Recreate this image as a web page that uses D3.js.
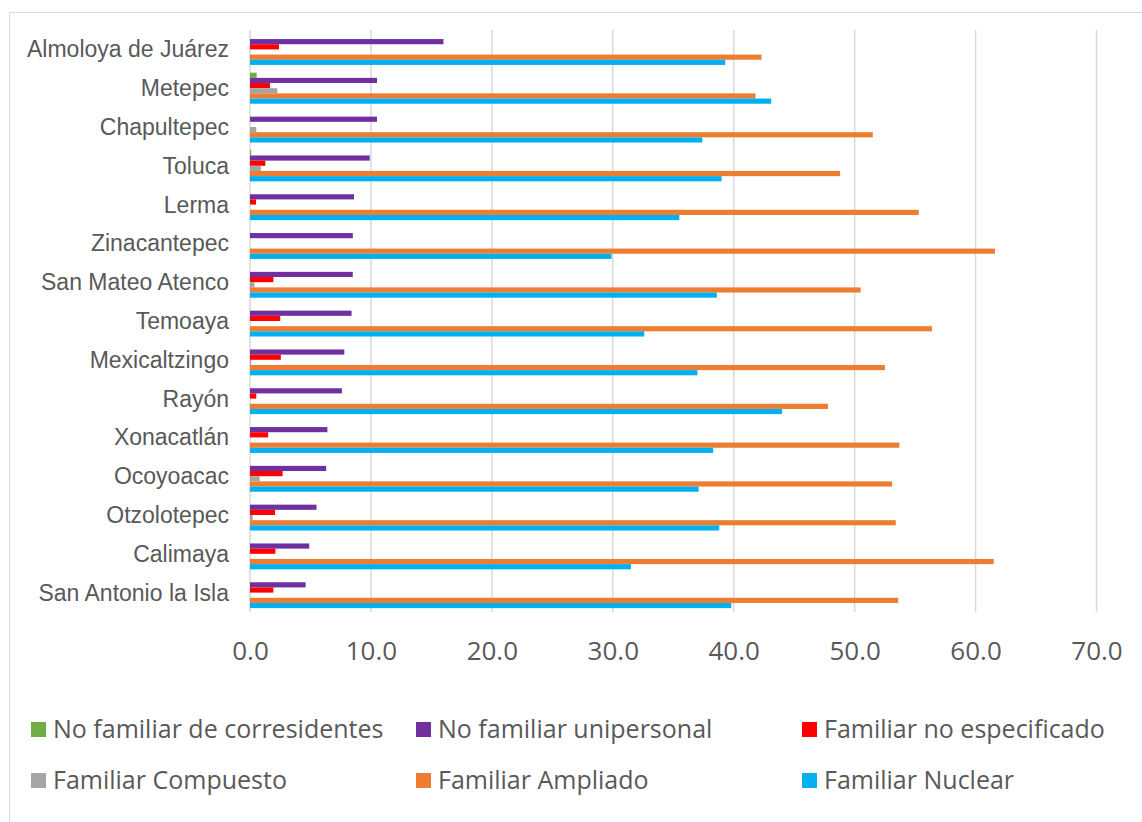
<!DOCTYPE html>
<html>
<head>
<meta charset="utf-8">
<script src="https://cdn.jsdelivr.net/npm/d3@7"></script>
<style>
  body { margin: 0; background: #fff; }
  svg { display: block; }
</style>
</head>
<body>
<script>
// categorias (de arriba hacia abajo)
var categories = ['Almoloya de Juárez', 'Metepec', 'Chapultepec', 'Toluca', 'Lerma',
  'Zinacantepec', 'San Mateo Atenco', 'Temoaya', 'Mexicaltzingo', 'Rayón',
  'Xonacatlán', 'Ocoyoacac', 'Otzolotepec', 'Calimaya', 'San Antonio la Isla'];

var noFamiliarCorresidentes = [0, 0.55, 0, 0.1, 0, 0, 0, 0, 0, 0, 0, 0, 0, 0, 0];
var noFamiliarUnipersonal = [16.0, 10.5, 10.5, 9.9, 8.6, 8.5, 8.5, 8.4, 7.8, 7.6, 6.4, 6.3, 5.5, 4.9, 4.6];
var familiarNoEspecificado = [2.4, 1.65, 0, 1.27, 0.5, 0, 1.93, 2.5, 2.55, 0.52, 1.5, 2.7, 2.07, 2.1, 1.93];
var familiarCompuesto = [0, 2.26, 0.52, 0.9, 0, 0, 0.36, 0, 0.1, 0, 0, 0.8, 0.22, 0, 0];
var familiarAmpliado = [42.3, 41.8, 51.5, 48.8, 55.3, 61.6, 50.5, 56.4, 52.5, 47.8, 53.7, 53.1, 53.4, 61.5, 53.6];
var familiarNuclear = [39.3, 43.1, 37.4, 39.0, 35.5, 29.9, 38.6, 32.6, 37.0, 44.0, 38.3, 37.1, 38.8, 31.5, 39.8];

var seriesNames = ['No familiar de corresidentes', 'No familiar unipersonal', 'Familiar no especificado',
  'Familiar Compuesto', 'Familiar Ampliado', 'Familiar Nuclear'];
var seriesValues = [noFamiliarCorresidentes, noFamiliarUnipersonal, familiarNoEspecificado,
  familiarCompuesto, familiarAmpliado, familiarNuclear];
var colors = ['#70AD47', '#7030A0', '#FF0000', '#A5A5A5', '#ED7D31', '#00B0F0'];
var xTicks = [0, 10, 20, 30, 40, 50, 60, 70];

var width = 1142, height = 822;
var svg = d3.select('body').append('svg').attr('width', width).attr('height', height);

// marco del grafico
svg.append('rect')
  .attr('x', 9.5).attr('y', 12.5)
  .attr('width', 1140).attr('height', 820)
  .attr('fill', 'none').attr('stroke', '#d9d9d9').attr('stroke-width', 1);

var x = d3.scaleLinear().domain([0, 70]).range([250, 1096.5]);
var y = d3.scaleBand().domain(categories).range([30, 612]).paddingInner(0).paddingOuter(0);
var bandGap = y.bandwidth() * 1.5 / 7.5 / 2;
var ySub = d3.scaleBand().domain(d3.range(seriesNames.length))
  .range([bandGap, y.bandwidth() - bandGap]).padding(0);

// lineas de cuadricula
svg.append('g').selectAll('line')
  .data(xTicks)
  .enter()
  .append('line')
  .attr('x1', function (d) { return x(d); })
  .attr('x2', function (d) { return x(d); })
  .attr('y1', 30).attr('y2', 612)
  .attr('stroke', '#d9d9d9').attr('stroke-width', 1.5);

// barras
var groups = svg.append('g').selectAll('g')
  .data(categories)
  .enter()
  .append('g')
  .attr('transform', function (d) { return 'translate(0,' + y(d) + ')'; });

groups.selectAll('rect')
  .data(function (d, i) {
    return seriesValues.map(function (s, k) { return { k: k, v: s[i] }; });
  })
  .enter()
  .append('rect')
  .attr('x', x(0))
  .attr('y', function (d) { return ySub(d.k); })
  .attr('height', ySub.bandwidth())
  .attr('width', function (d) { return x(d.v) - x(0); })
  .attr('fill', function (d) { return colors[d.k]; });

// etiquetas de categorias
svg.append('g').selectAll('text')
  .data(categories)
  .enter()
  .append('text')
  .attr('x', 229)
  .attr('y', function (d) { return y(d) + y.bandwidth() / 2; })
  .attr('dy', '0.35em')
  .attr('text-anchor', 'end')
  .attr('font-family', 'Liberation Sans, Arial, sans-serif')
  .attr('font-size', 23)
  .attr('fill', '#595959')
  .text(function (d) { return d; });

// eje x
var xAxis = d3.axisBottom(x).tickValues(xTicks).tickFormat(d3.format('.1f')).tickSize(0).tickPadding(0);
var gx = svg.append('g').call(xAxis);
gx.select('.domain').remove();
gx.selectAll('text')
  .attr('y', 651)
  .attr('dy', '0.35em')
  .attr('font-family', 'Open Sans, sans-serif')
  .attr('font-size', 26)
  .attr('fill', '#595959');

// leyenda
var legendPos = [[31, 729.5], [416, 729.5], [802, 729.5], [31, 780.5], [416, 780.5], [802, 780.5]];
var legend = svg.append('g').selectAll('g')
  .data(seriesNames)
  .enter()
  .append('g')
  .attr('transform', function (d, i) { return 'translate(' + legendPos[i][0] + ',' + legendPos[i][1] + ')'; });
legend.append('rect')
  .attr('x', 0).attr('y', -7.5).attr('width', 15).attr('height', 15)
  .attr('fill', function (d, i) { return colors[i]; });
legend.append('text')
  .attr('x', 22).attr('y', 0).attr('dy', '0.35em')
  .attr('font-family', 'Open Sans, sans-serif')
  .attr('font-size', 25)
  .attr('fill', '#595959')
  .text(function (d) { return d; });
</script>
</body>
</html>
